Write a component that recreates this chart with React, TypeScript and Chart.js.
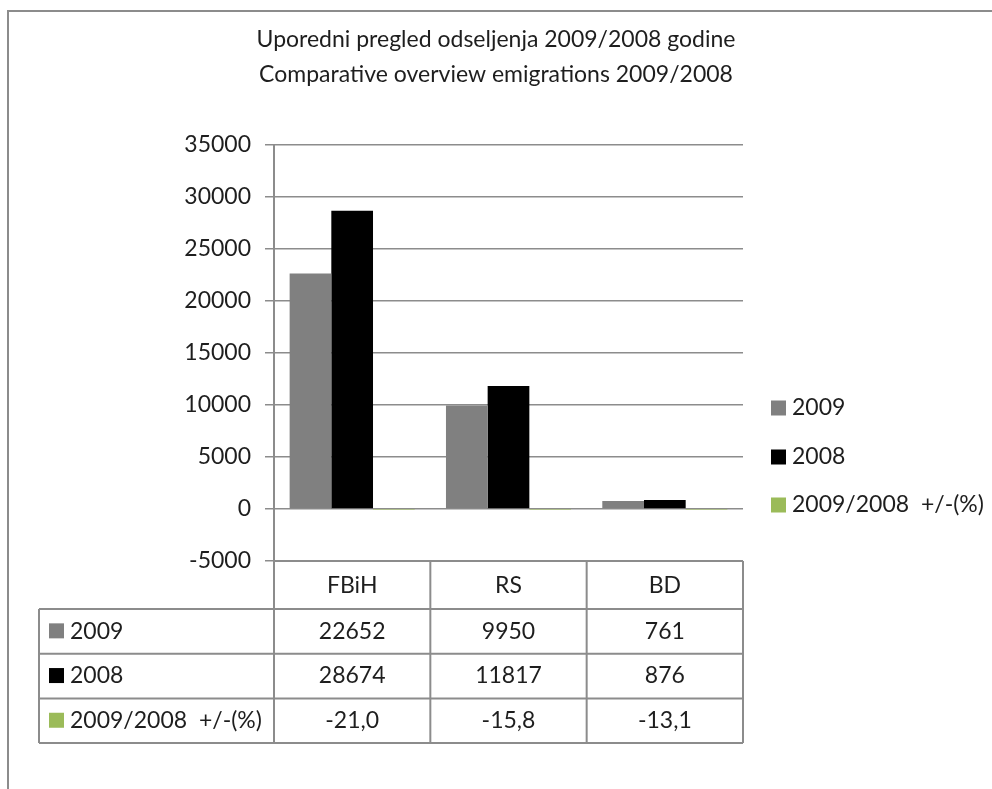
import React, { useEffect, useRef } from "react";
import { Chart, registerables } from "chart.js";

Chart.register(...registerables);

const categories = ["FBiH", "RS", "BD"];
const seriesLabels = ["2009", "2008", "2009/2008  +/-(%)"];
const values2009 = [22652, 9950, 761];
const values2008 = [28674, 11817, 876];
const changePct = [-21.0, -15.8, -13.1];
const seriesColors = ["#808080", "#000000", "#9BBB59"];
const titleLines = [
  "Uporedni pregled odseljenja 2009/2008 godine",
  "Comparative overview emigrations 2009/2008",
];
const yMin = -5000;
const yMax = 35000;
const yStep = 5000;

const FONT = "Lato, 'Open Sans', sans-serif";
const SIZE = 23;
const TEXT = "#1e1e1e";
const LINE = "#8c8c8c";

const seriesValues = [values2009, values2008, changePct];
const fmt = (v: number, i: number) =>
  i === 2 ? v.toFixed(1).replace(".", ",") : String(v);

const overlay = {
  id: "overlay",
  afterDraw(chart: any) {
    const ctx = chart.ctx as CanvasRenderingContext2D;
    const xs = chart.scales.x;
    const ys = chart.scales.y;
    ctx.save();
    // frame
    ctx.strokeStyle = LINE;
    ctx.lineWidth = 2;
    ctx.beginPath();
    ctx.moveTo(8, chart.height);
    ctx.lineTo(8, 11);
    ctx.lineTo(chart.width, 11);
    ctx.stroke();

    // title
    ctx.fillStyle = TEXT;
    ctx.font = `${SIZE}px ${FONT}`;
    ctx.textAlign = "center";
    ctx.textBaseline = "middle";
    titleLines.forEach((t, i) => ctx.fillText(t, chart.width / 2, 40 + i * 35));

    // data table
    const n = categories.length;
    const cw = (xs.right - xs.left) / n;
    const top = ys.bottom;
    const headerBottom = top + 48;
    const rowH = 44.7;
    const tableLeft = 39;
    const tableBottom = headerBottom + rowH * seriesValues.length;
    ctx.strokeStyle = LINE;
    ctx.lineWidth = 2;
    ctx.beginPath();
    ctx.moveTo(xs.left, top);
    ctx.lineTo(xs.right, top);
    for (let r = 0; r <= seriesValues.length; r++) {
      const yy = headerBottom + r * rowH;
      ctx.moveTo(tableLeft, yy);
      ctx.lineTo(xs.right, yy);
    }
    for (let c = 0; c <= n; c++) {
      const xx = xs.left + c * cw;
      ctx.moveTo(xx, c === 0 ? ys.top : top);
      ctx.lineTo(xx, tableBottom);
    }
    ctx.moveTo(tableLeft, headerBottom);
    ctx.lineTo(tableLeft, tableBottom);
    ctx.stroke();

    ctx.fillStyle = TEXT;
    ctx.textAlign = "center";
    categories.forEach((c, i) => {
      ctx.fillText(c, xs.getPixelForTick(i), (top + headerBottom) / 2 + 1);
    });
    seriesValues.forEach((vals, r) => {
      const cy = headerBottom + rowH * (r + 0.5);
      vals.forEach((v, i) => {
        ctx.fillStyle = TEXT;
        ctx.textAlign = "center";
        ctx.fillText(fmt(v, r), xs.getPixelForTick(i), cy);
      });
      ctx.fillStyle = seriesColors[r];
      ctx.fillRect(49, cy - 8, 15, 15);
      ctx.fillStyle = TEXT;
      ctx.textAlign = "left";
      ctx.fillText(seriesLabels[r], 70, cy);
    });

    // legend
    const legendY = [408, 457, 505];
    seriesLabels.forEach((l, r) => {
      ctx.fillStyle = seriesColors[r];
      ctx.fillRect(771, legendY[r] - 7.5, 15, 15);
      ctx.fillStyle = TEXT;
      ctx.textAlign = "left";
      ctx.fillText(l, 792, legendY[r]);
    });
    ctx.restore();
  },
};

export default function App() {
  const ref = useRef<HTMLCanvasElement>(null);
  useEffect(() => {
    if (!ref.current) return;
    const chart = new Chart(ref.current, {
      type: "bar",
      data: {
        labels: categories,
        datasets: seriesLabels.map((l, i) => ({
          label: l,
          data: seriesValues[i],
          backgroundColor: seriesColors[i],
          borderWidth: 0,
          categoryPercentage: 0.8,
          barPercentage: 1.0,
        })),
      },
      options: {
        animation: false,
        responsive: false,
        maintainAspectRatio: false,
        layout: { padding: { left: 0, top: 145, right: 249, bottom: 228 } },
        plugins: { legend: { display: false }, tooltip: { enabled: false }, title: { display: false } },
        scales: {
          x: {
            grid: { display: false },
            border: { display: false },
            ticks: { display: false },
            afterFit: (s: any) => {
              s.height = 0;
            },
          },
          y: {
            min: yMin,
            max: yMax,
            ticks: {
              stepSize: yStep,
              color: TEXT,
              font: { family: FONT, size: SIZE },
              padding: 14,
              callback: (v: any) => String(v),
            },
            grid: { color: LINE, lineWidth: 1.5, tickLength: 9 },
            border: { display: true, color: LINE, width: 2 },
            afterFit: (s: any) => {
              s.width = 274;
            },
          },
        },
      },
      plugins: [overlay],
    });
    return () => chart.destroy();
  }, []);
  return (
    <div style={{ position: "fixed", left: 0, top: 0, width: 992, height: 789, background: "#fff" }}>
      <canvas ref={ref} width={992} height={789} style={{ width: 992, height: 789 }} />
    </div>
  );
}
